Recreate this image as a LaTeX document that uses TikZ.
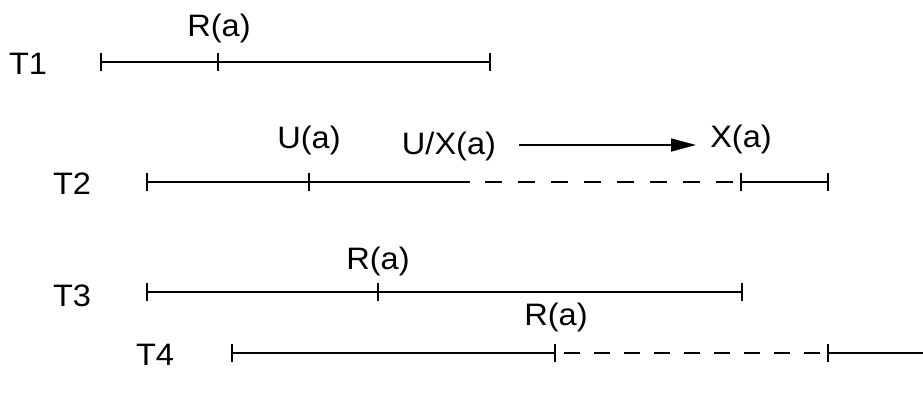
\documentclass[tikz,border=0pt]{standalone}
\usepackage{fontspec}
\setmainfont[FakeStretch=1.05]{Liberation Sans}
\usetikzlibrary{arrows.meta}
\begin{document}
\begin{tikzpicture}[x=1pt,y=1pt,
  lbl/.style={font=\fontsize{31}{36}\selectfont, inner sep=0pt, anchor=center},
  tl/.style={line width=1.4pt},
  dl/.style={line width=1.4pt, dash pattern=on 17pt off 16pt},
  dlb/.style={line width=1.4pt, dash pattern=on 16pt off 14pt},
  tick/.style={line width=1.4pt},
  arr/.style={line width=1.4pt, -{Triangle[length=25pt,width=13pt]}}]
\useasboundingbox (0,0) rectangle (923,-394);
% T1
\node[lbl] (t1) at (28,-64) {T1};
\coordinate (a1) at (101,-62);
\coordinate (b1) at (218,-62);
\coordinate (c1) at (490,-62);
\draw[tl] (a1) -- (c1);
\foreach \p in {a1,b1,c1} \draw[tick] ([yshift=9pt]\p) -- ([yshift=-9pt]\p);
\node[lbl] (r1) at (219,-28) {R(a)};
% T2
\node[lbl] (t2) at (72,-184) {T2};
\coordinate (a2) at (147,-182);
\coordinate (b2) at (309,-182);
\coordinate (s2) at (470,-182);
\coordinate (d2) at (485,-182);
\coordinate (e2) at (733,-182);
\coordinate (c2) at (741,-182);
\coordinate (f2) at (828,-182);
\draw[tl] (a2) -- (s2);
\draw[dl] (d2) -- (e2);
\draw[tl] (c2) -- (f2);
\foreach \p in {a2,b2,c2,f2} \draw[tick] ([yshift=9pt]\p) -- ([yshift=-9pt]\p);
\node[lbl] (u2) at (309,-140) {U(a)};
\node[lbl] (ux2) at (449,-146) {U/X(a)};
\node[lbl] (x2) at (741,-139) {X(a)};
\coordinate (as) at (519,-145);
\coordinate (ae) at (696,-145);
\draw[arr] (as) -- (ae);
% T3
\node[lbl] (t3) at (72,-296) {T3};
\coordinate (a3) at (147,-292);
\coordinate (b3) at (378,-292);
\coordinate (c3) at (742,-292);
\draw[tl] (a3) -- (c3);
\foreach \p in {a3,b3,c3} \draw[tick] ([yshift=9pt]\p) -- ([yshift=-9pt]\p);
\node[lbl] (r3) at (378,-261) {R(a)};
% T4
\node[lbl] (t4) at (155,-355) {T4};
\coordinate (a4) at (232,-353);
\coordinate (b4) at (555,-353);
\coordinate (d4) at (564,-353);
\coordinate (e4) at (820,-353);
\coordinate (c4) at (828,-353);
\coordinate (f4) at (923,-353);
\draw[tl] (a4) -- (b4);
\draw[dlb] (d4) -- (e4);
\draw[tl] (c4) -- (f4);
\foreach \p in {a4,b4,c4} \draw[tick] ([yshift=9pt]\p) -- ([yshift=-9pt]\p);
\node[lbl] (r4) at (556,-317) {R(a)};
\end{tikzpicture}
\end{document}
